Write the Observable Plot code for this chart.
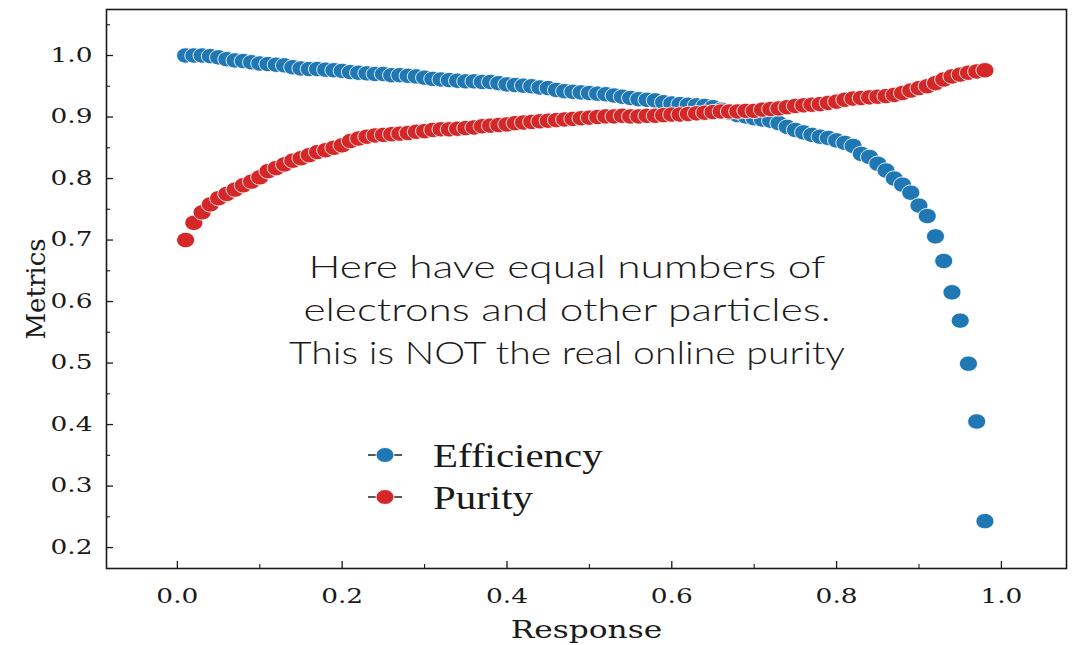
<!DOCTYPE html>
<html><head><meta charset="utf-8">
<script src="https://cdn.jsdelivr.net/npm/d3@7"></script>
<script src="https://cdn.jsdelivr.net/npm/@observablehq/plot@0.6"></script>
<style>html,body{margin:0;padding:0;background:#fff} svg{display:block}</style>
</head><body>
<script>
const response = [0.01,0.02,0.03,0.04,0.05,0.06,0.07,0.08,0.09,0.10,
 0.11,0.12,0.13,0.14,0.15,0.16,0.17,0.18,0.19,0.20,
 0.21,0.22,0.23,0.24,0.25,0.26,0.27,0.28,0.29,0.30,
 0.31,0.32,0.33,0.34,0.35,0.36,0.37,0.38,0.39,0.40,
 0.41,0.42,0.43,0.44,0.45,0.46,0.47,0.48,0.49,0.50,
 0.51,0.52,0.53,0.54,0.55,0.56,0.57,0.58,0.59,0.60,
 0.61,0.62,0.63,0.64,0.65,0.66,0.67,0.68,0.69,0.70,
 0.71,0.72,0.73,0.74,0.75,0.76,0.77,0.78,0.79,0.80,
 0.81,0.82,0.83,0.84,0.85,0.86,0.87,0.88,0.89,0.90,
 0.91,0.92,0.93,0.94,0.95,0.96,0.97,0.98];
const efficiency = [1.000,1.000,1.000,0.999,0.997,0.994,0.992,0.991,0.989,0.987,
 0.986,0.985,0.984,0.981,0.979,0.978,0.978,0.977,0.976,0.975,
 0.973,0.972,0.971,0.970,0.970,0.968,0.968,0.967,0.966,0.964,
 0.962,0.961,0.960,0.959,0.958,0.958,0.957,0.957,0.955,0.953,
 0.952,0.951,0.950,0.948,0.947,0.944,0.942,0.941,0.940,0.939,
 0.938,0.937,0.935,0.933,0.931,0.929,0.928,0.927,0.924,0.922,
 0.921,0.920,0.919,0.918,0.916,0.912,0.907,0.903,0.901,0.898,
 0.896,0.894,0.890,0.884,0.879,0.875,0.871,0.868,0.866,0.862,
 0.858,0.853,0.840,0.835,0.824,0.813,0.800,0.790,0.777,0.756,
 0.739,0.706,0.666,0.615,0.569,0.499,0.405,0.243];
const purity = [0.700,0.728,0.745,0.758,0.768,0.775,0.782,0.789,0.795,0.802,
 0.812,0.817,0.823,0.829,0.833,0.838,0.843,0.846,0.850,0.854,
 0.861,0.865,0.868,0.870,0.871,0.872,0.873,0.874,0.876,0.877,
 0.879,0.880,0.880,0.881,0.882,0.883,0.885,0.886,0.887,0.888,
 0.890,0.891,0.892,0.893,0.894,0.895,0.896,0.897,0.898,0.899,
 0.900,0.901,0.901,0.902,0.901,0.901,0.902,0.902,0.903,0.904,
 0.904,0.905,0.906,0.907,0.908,0.909,0.909,0.909,0.910,0.910,
 0.912,0.913,0.914,0.916,0.918,0.919,0.920,0.921,0.923,0.925,
 0.928,0.930,0.931,0.932,0.933,0.934,0.936,0.939,0.943,0.947,
 0.950,0.955,0.961,0.966,0.969,0.972,0.974,0.976];
const seriesNames = ["Efficiency", "Purity"];
const seriesColors = ["#1f77b4", "#d62728"];
const xTicks = [0.0, 0.2, 0.4, 0.6, 0.8, 1.0];
const xMinorTicks = [0.1, 0.3, 0.5, 0.7, 0.9];
const yTicks = [0.2, 0.3, 0.4, 0.5, 0.6, 0.7, 0.8, 0.9, 1.0];
const yMinorTicks = [0.25, 0.35, 0.45, 0.55, 0.65, 0.75, 0.85, 0.95, 1.05];
const xLabel = "Response";
const yLabel = "Metrics";
const noteLines = ["Here have equal numbers of", "electrons and other particles.", "This is NOT the real online purity"];

const effData = response.map((x, i) => ({x, y: efficiency[i]}));
const purData = response.map((x, i) => ({x, y: purity[i]}));

function ellipseSymbol(rx, ry) {
  const k = 0.5523;
  return {draw(ctx) {
    ctx.moveTo(rx, 0);
    ctx.bezierCurveTo(rx, ry * k, rx * k, ry, 0, ry);
    ctx.bezierCurveTo(-rx * k, ry, -rx, ry * k, -rx, 0);
    ctx.bezierCurveTo(-rx, -ry * k, -rx * k, -ry, 0, -ry);
    ctx.bezierCurveTo(rx * k, -ry, rx, -ry * k, rx, 0);
    ctx.closePath();
  }};
}
const dotSym = ellipseSymbol(9, 7.7);
const fmt = d3.format(".1f");
const tickFont = 20;

const svg = Plot.plot({
  width: 1079, height: 645,
  marginLeft: 106, marginRight: 13, marginTop: 9, marginBottom: 77,
  style: {fontFamily: "DejaVu Serif", color: "#1a1a1a", background: "#fff"},
  x: {domain: [-0.086, 1.079]},
  y: {domain: [0.166, 1.0748]},
  marks: [
    Plot.dot(effData, {x: "x", y: "y", symbol: dotSym, fill: seriesColors[0], stroke: "#fff", strokeWidth: 0.9}),
    Plot.dot(purData, {x: "x", y: "y", symbol: dotSym, fill: seriesColors[1], stroke: "#fff", strokeWidth: 0.9}),
    Plot.axisY(yTicks, {tickSize: -7, tickFormat: () => "", label: null, strokeWidth: 1.3}),
    Plot.axisY(yMinorTicks, {tickSize: -4, tickFormat: () => "", label: null, strokeWidth: 1.1}),
    Plot.axisX(xTicks, {tickSize: -7, tickFormat: () => "", label: null, strokeWidth: 1.3}),
    Plot.axisX(xMinorTicks, {tickSize: -4, tickFormat: () => "", label: null, strokeWidth: 1.1}),
    Plot.axisY(yTicks, {tickSize: 0, tickPadding: 14, tickFormat: fmt, label: null, fontSize: tickFont}),
    Plot.axisX(xTicks, {tickSize: 0, tickPadding: 20, tickFormat: fmt, label: null, fontSize: tickFont}),
    Plot.text([yLabel], {frameAnchor: "left", textAnchor: "middle", lineAnchor: "middle", dx: -70, rotate: -90, fontSize: 26, text: d => d, className: "ylab"}),
    Plot.text([xLabel], {frameAnchor: "bottom", textAnchor: "middle", lineAnchor: "middle", dy: 61, fontSize: 25, text: d => d, className: "xlab"}),
    Plot.frame({stroke: "#1a1a1a", strokeWidth: 1.6})
  ]
});
document.body.appendChild(svg);

// horizontal stretch of texts to match the reference's aspect
function stretch(el, k) {
  const len = el.getComputedTextLength();
  if (len > 0) {
    el.setAttribute("textLength", (len * k).toFixed(1));
    el.setAttribute("lengthAdjust", "spacingAndGlyphs");
  }
}
svg.querySelectorAll('g[aria-label="y-axis tick label"] text, g[aria-label="x-axis tick label"] text').forEach(t => stretch(t, 1.32));
svg.querySelectorAll('.xlab text').forEach(t => stretch(t, 1.25));

const s = d3.select(svg);
// annotation
const noteY = [266, 309, 352];
const noteW = [517, 527, 556];
noteLines.forEach((line, i) => {
  s.append("text")
    .attr("x", 567).attr("y", noteY[i]).attr("dy", "0.36em")
    .attr("text-anchor", "middle")
    .attr("font-family", "Lato").attr("font-weight", 300).attr("font-size", 32).attr("fill", "#1a1a1a")
    .attr("textLength", noteW[i]).attr("lengthAdjust", "spacingAndGlyphs")
    .text(line);
});
// legend
const legY = [455, 497];
seriesNames.forEach((name, i) => {
  const g = s.append("g");
  g.append("line").attr("x1", 368).attr("x2", 402).attr("y1", legY[i]).attr("y2", legY[i])
    .attr("stroke", "#222").attr("stroke-width", 1.5);
  g.append("ellipse").attr("cx", 385).attr("cy", legY[i]).attr("rx", 9).attr("ry", 7.5)
    .attr("fill", seriesColors[i]).attr("stroke", "#fff").attr("stroke-width", 0.9);
  const t = g.append("text").attr("x", 433).attr("y", legY[i]).attr("dy", "0.35em")
    .attr("text-anchor", "start")
    .attr("font-family", "Liberation Serif").attr("font-size", 33).attr("fill", "#1a1a1a")
    .text(name);
  stretch(t.node(), 1.24);
});
</script>
</body></html>
